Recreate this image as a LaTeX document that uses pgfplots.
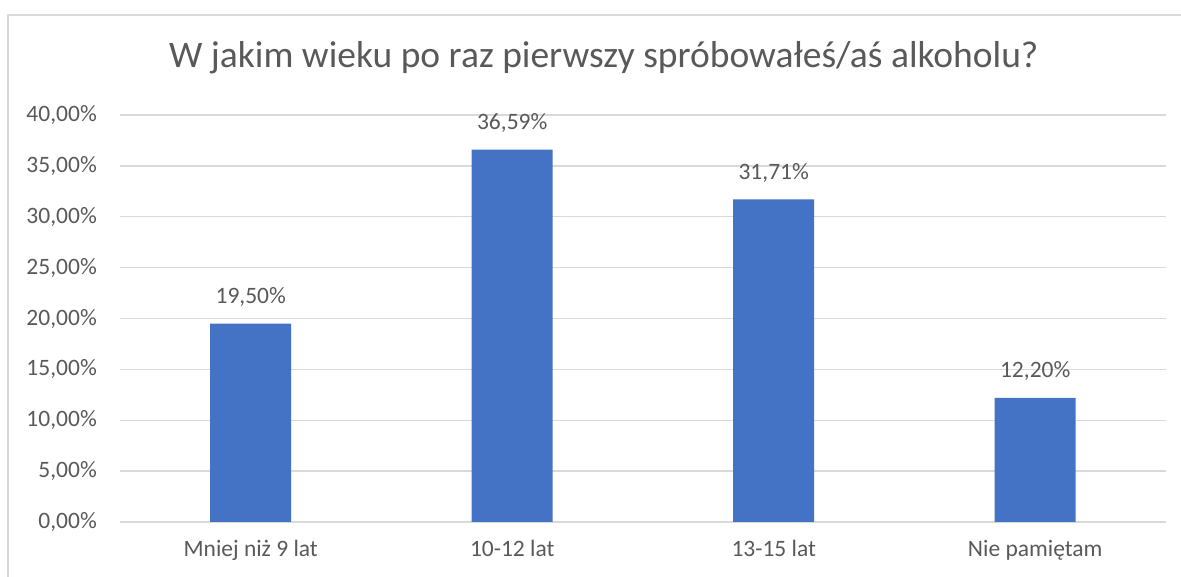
\documentclass[border=0pt]{standalone}
\usepackage{pgfplots}
\pgfplotsset{compat=1.18}
\usepackage{fontspec}
\setmainfont{Carlito}
\definecolor{barblue}{HTML}{4472C4}
\definecolor{txtgray}{HTML}{595959}
\definecolor{gridgray}{HTML}{D9D9D9}
\definecolor{framegray}{HTML}{D9D9D9}
\begin{document}
\begin{tikzpicture}[x=1bp,y=1bp]
\useasboundingbox (0,0) rectangle (1181,577);
\draw[framegray, line width=1.5bp] (8,-10) -- (8,562) -- (1195,562);
\begin{axis}[
  at={(120bp,55bp)}, anchor=south west,
  scale only axis, width=1046bp, height=407bp,
  xmin=-0.5, xmax=3.5, ymin=0, ymax=40,
  ytick={0,5,...,40},
  xtick={0,1,2,3},
  xticklabels={Mniej niż 9 lat,10-12 lat,13-15 lat,Nie pamiętam},
  ymajorgrids, grid style={gridgray, line width=1.3bp},
  axis line style={draw=none},
  major tick length=0pt,
  tick label style={font=\fontsize{23.5bp}{28bp}\selectfont, text=txtgray},
  yticklabel={\pgfmathprintnumber[fixed,fixed zerofill,precision=2,use comma,assume math mode=true]{\tick}\%},
  yticklabel style={anchor=east, inner sep=0pt, xshift=-23bp},
  xticklabel style={anchor=north, inner sep=0pt, yshift=-18bp},
  title={W jakim wieku po raz pierwszy spróbowałeś/aś alkoholu?},
  title style={font=\fontsize{37.5bp}{44bp}\selectfont, text=txtgray, at={(axis description cs:0.4625,1.101)}, anchor=base, inner sep=0pt},
  nodes near coords={\pgfmathprintnumber[fixed,fixed zerofill,precision=2,use comma,assume math mode=true]{\pgfplotspointmeta}\%},
  point meta=y,
  nodes near coords style={font=\fontsize{23.5bp}{28bp}\selectfont, text=txtgray, anchor=south, inner sep=0pt, yshift=17bp},
  clip=false,
]
\addplot[ybar, bar width=81bp, fill=barblue, draw=none] coordinates {
  (0,19.50) (1,36.59) (2,31.71) (3,12.20)
};
\end{axis}
\end{tikzpicture}
\end{document}
